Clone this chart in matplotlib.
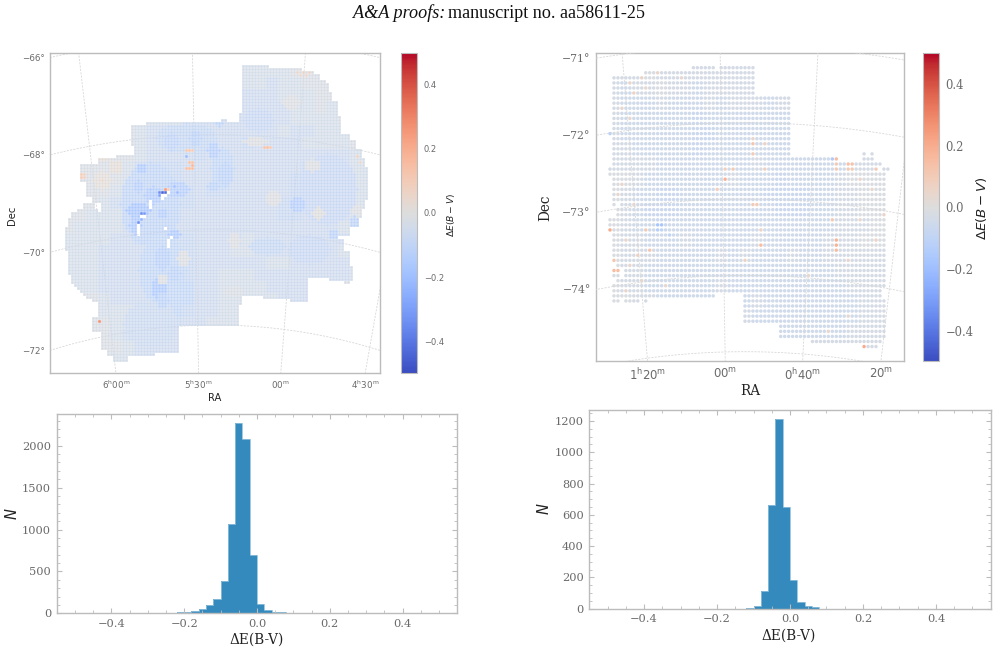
import numpy as np
import matplotlib
matplotlib.use("Agg")
import matplotlib.pyplot as plt
from matplotlib.colors import Normalize
from matplotlib.ticker import MultipleLocator

# ---------- histogram data (bin lower edge, counts; bins are 0.02 wide) ----------
LMC_BIN_LEFT = [-0.22, -0.20, -0.18, -0.16, -0.14, -0.12, -0.10, -0.08, -0.06, -0.04,
                -0.02, 0.00, 0.02, 0.04, 0.06]
LMC_COUNTS = [10, 12, 30, 50, 100, 175, 390, 1065, 2270, 2080, 700, 110, 35, 15, 12]
SMC_BIN_LEFT = [-0.12, -0.10, -0.08, -0.06, -0.04, -0.02, 0.00, 0.02, 0.04, 0.06]
SMC_COUNTS = [5, 15, 115, 660, 1215, 650, 185, 43, 15, 8]
BIN_WIDTH = 0.02

# ---------- LMC survey footprint: first/last column of each row, from row 4 down ----------
LMC_FIRST_ROW = 4
LMC_LEFT = [64] * 16 + [63] * 3 + [32] + [27] * 7 + [28] * 3 + [22] + [16] * 2 + [10] * 6 \
    + [12] * 5 + [14] * 2 + [17] * 3 + [7] * 2 + [6] * 3 + [5] * 8 + [6] * 8 + [7] * 3 \
    + [8, 9, 10, 11, 12, 14] + [16] * 5 + [14] * 5 + [17] * 6 + [19] * 2 + [21] * 2
LMC_RIGHT = [72, 83, 87, 89, 89, 91, 92, 92, 92, 93, 93, 93] + [95] * 5 + [96] * 6 \
    + [99] * 2 + [101] * 3 + [103] * 3 + [104] * 3 + [105] * 11 + [104] * 3 + [103] * 3 \
    + [102] * 3 + [99] * 3 + [95] + [97] * 4 + [99] * 5 + [100] * 4 + [85] * 6 + [63] * 3 \
    + [62] * 7 + [42] * 9 + [34] + [25] * 2
# detached runs: row, first column, last column
LMC_EXTRA_RUNS = [(22, 57, 58), (50, 11, 14), (51, 11, 14), (52, 9, 15),
                  (75, 93, 100), (76, 98, 99), (81, 71, 85), (82, 80, 85)]
# masked cells: row, column
LMC_HOLES = [(47, 37), (47, 38), (48, 37), (46, 39), (49, 33), (50, 33), (51, 33), (54, 31), (54, 30),
             (57, 29), (58, 29), (59, 29), (60, 29), (58, 38), (62, 39), (63, 39), (64, 39), (61, 40)]
# strongly deviating cells: row, column, value
LMC_SPOTS = [(46, 37, -0.45), (46, 38, -0.42), (46, 36, -0.35), (47, 36, -0.3), (45, 38, 0.25),
             (45, 39, 0.1), (46, 42, -0.22), (53, 30, -0.35), (53, 31, -0.32), (56, 29, -0.35),
             (55, 30, -0.25), (44, 41, -0.2), (45, 33, -0.16), (32, 45, 0.12), (32, 46, 0.12),
             (32, 47, 0.1), (36, 46, 0.14), (36, 47, 0.14), (37, 47, 0.18), (38, 45, 0.15),
             (38, 46, 0.15), (38, 47, 0.16), (34, 45, -0.22), (31, 71, 0.14), (31, 72, 0.15),
             (31, 73, 0.12), (6, 82, 0.06), (6, 84, 0.07), (6, 86, 0.07), (7, 83, 0.05), (7, 85, 0.06),
             (89, 16, 0.28), (40, 10, 0.1), (41, 10, 0.1), (40, 11, 0.08), (41, 11, 0.08),
             (42, 17, 0.05), (34, 102, 0.08), (36, 103, 0.05)]
# mean colour excess per block of 4x4 cells, coded with LMC_LEVELS
LMC_LEVELS = {"0": 0.02, "1": -0.02, "2": -0.04, "3": -0.06, "4": -0.075, "5": -0.09, "6": -0.11}
LMC_BLOCKS = [
    "1111111" + "111111111" + "111111111111",
    "1111111" + "111111111" + "222211101111",
    "1111111" + "111111111" + "223221111111",
    "1111111" + "111111111" + "333222111111",
    "1111111" + "111111111" + "333322121111",
    "1111111" + "222233333" + "333322221111",
    "1111111" + "233444333" + "333233222211",
    "1111111" + "233343433" + "433332222111",
    "1111011" + "233334343" + "333333333222",
    "1111102" + "344433333" + "333334433221",
    "1111012" + "454433333" + "333344443222",
    "1111123" + "455543443" + "333344433222",
    "1111233" + "555443333" + "333444333222",
    "1112223" + "554433333" + "333443333222",
    "1122223" + "454333333" + "333333332222",
    "1222233" + "444443333" + "233333333221",
    "1222333" + "344443332" + "233333332221",
    "1222333" + "334443333" + "332233333211",
    "1222333" + "333443322" + "233333333211",
    "1122333" + "333453322" + "223333321111",
    "1111233" + "333553322" + "222333211111",
    "1111222" + "333543322" + "222111111111",
    "1111122" + "333433222" + "221111111111",
    "1111123" + "333333222" + "221111111111",
    "1111112" + "333322222" + "111111111111",
    "1111122" + "332222111" + "111111111111",
    "1111122" + "222111111" + "111111111111",
]
# elongated structures drawn over the block means, broad ones first:
# centre row, centre column, half height, half width, value
LMC_BLOBS = [
    (50, 33, 14, 10, -0.095), (72, 37, 12, 8, -0.09), (28, 45, 5, 10, -0.085), (45, 92, 12, 10, -0.08),
    (38, 57, 7, 4, -0.09), (65, 86, 5, 7, -0.08), (90, 33, 8, 9, -0.07), (22, 69, 4, 5, -0.08),
    (64, 72, 3, 6, -0.085), (32, 54, 2.5, 2, -0.13), (40, 58, 4, 2.5, -0.11), (28, 48, 2.5, 2, -0.11),
    (29, 40, 3, 2.5, -0.105), (50, 82, 2.5, 2.5, -0.13), (44, 54, 1.5, 2.5, -0.11), (38, 30, 1.5, 1.5, -0.15),
    (44, 29, 2, 1.5, -0.13), (47, 34, 3, 3, -0.14), (45, 42, 2.5, 4, -0.13), (52, 29, 2.5, 4, -0.17),
    (57, 28, 3, 2, -0.15), (53, 37, 1.5, 1.5, -0.14), (60, 41, 1.5, 2, -0.15), (68, 37, 4, 2.5, -0.12),
    (73, 41, 2.5, 2, -0.11), (78, 36, 4, 2.5, -0.15), (82, 37, 2.5, 2, -0.11), (56, 101, 2, 1.5, -0.11),
    (23, 56, 1, 1.5, -0.11), (60, 94, 1.5, 1.5, -0.11),
    (75, 37, 1.5, 1.5, -0.01), (68, 44, 2.5, 2, -0.01), (53, 89, 2, 2, 0.0), (42, 17, 3, 3, 0.015),
    (48, 74, 2.5, 2.5, -0.01), (52, 102, 2, 2, -0.01), (29, 68, 1.5, 4, -0.01), (62, 61, 2.5, 2, -0.015),
    (79, 61, 2, 3, -0.02), (37, 87, 2, 2.5, -0.015), (16, 80, 2.5, 3, -0.015),
]

# ---------- SMC survey footprint: runs of (first column, last column) per row ----------
SMC_RUNS = (
    [[(21, 26), (28, 36)], [(9, 36)]] + [[(1, 36)]] * 4 + [[(1, 45)]] * 7 + [[(0, 45)]] + [[(1, 45)]] * 3
    + [[(1, 45), (64, 64), (66, 66)]] + [[(1, 57), (64, 66)]] + [[(1, 68)]] + [[(0, 67), (69, 70)]]
    + [[(0, 69)]] + [[(1, 69)]] * 5 + [[(1, 1), (3, 69)]] + [[(2, 69)]] * 2 + [[(0, 69)]] * 3
    + [[(1, 69)]] * 6 + [[(2, 69)]] + [[(1, 2), (4, 69)]] * 2 + [[(2, 69)]] + [[(1, 69)]] + [[(1, 68)]]
    + [[(1, 26), (34, 68)]] + [[(1, 2), (4, 7), (9, 9), (34, 69)]] + [[(34, 69)]] * 4
    + [[(43, 69)]] * 3 + [[(51, 68)]] + [[(64, 67)]]
)
SMC_SPOTS = [(32, 0, 0.2), (31, 12, -0.17), (31, 13, -0.17), (32, 12, -0.13), (32, 13, -0.1), (33, 15, -0.1),
             (32, 9, 0.1), (36, 10, 0.12), (37, 7, 0.07), (38, 1, 0.12), (40, 1, 0.15), (40, 2, 0.15),
             (18, 56, -0.15), (18, 57, 0.15), (19, 57, 0.1), (20, 57, 0.1), (19, 60, 0.13), (19, 61, 0.13),
             (20, 60, 0.1), (20, 61, 0.1), (20, 67, 0.1), (15, 36, 0.12), (14, 36, 0.05), (15, 39, 0.07),
             (20, 39, 0.08), (27, 36, 0.1), (27, 37, 0.1), (30, 56, 0.1), (34, 57, 0.18), (35, 57, 0.18),
             (36, 57, 0.15), (35, 38, 0.15), (32, 38, 0.06), (55, 64, 0.2), (38, 34, 0.06), (34, 67, 0.06),
             (22, 29, 0.18), (24, 27, 0.08), (20, 31, 0.1), (20, 29, 0.08), (17, 36, 0.1), (13, 0, -0.12),
             (3, 5, 0.05), (2, 8, 0.06), (1, 12, 0.05), (2, 18, 0.04), (5, 6, 0.06), (4, 9, 0.04), (8, 3, 0.05),
             (10, 5, 0.04), (23, 3, 0.05), (25, 2, 0.04), (27, 6, 0.04), (34, 4, 0.05), (39, 5, 0.05),
             (42, 8, 0.05), (44, 4, 0.05), (43, 14, 0.04), (30, 63, 0.04), (38, 60, 0.05), (29, 69, 0.05),
             (22, 63, 0.05), (24, 66, 0.04), (49, 60, 0.04), (52, 55, 0.04), (41, 50, 0.04)]
# mean colour excess per block of 3x3 cells, coded with SMC_LEVELS
SMC_LEVELS = {"1": -0.015, "2": -0.03, "3": -0.05, "4": -0.065}
SMC_BLOCKS = [
    "222122222222222222222222",
    "232212232222222222222222",
    "233323332322232222222222",
    "233333343333333322222222",
    "233333344333333333222222",
    "223333343333333333222222",
    "222233333333233333332222",
    "112333333323334333321111",
    "123344333333344443322111",
    "123444333333334443322111",
    "123343333333333333322211",
    "122333233333233333222111",
    "122233333232333233222222",
    "122333333333333333322222",
    "122333333233333333332222",
    "112233333333233333333222",
    "222222222222333333333222",
    "222222222222333333332222",
    "222222222222222222222222",
]

# ---------- graticule and labels ----------
LMC_RA_HOURS = [6.0, 5.5, 5.0, 4.5]
LMC_RA_LABELS = [r"$6^{\mathrm{h}}00^{\mathrm{m}}$", r"$5^{\mathrm{h}}30^{\mathrm{m}}$",
                 r"$00^{\mathrm{m}}$", r"$4^{\mathrm{h}}30^{\mathrm{m}}$"]
LMC_DECS = [-66, -68, -70, -72]
SMC_RA_HOURS = [4 / 3, 1.0, 2 / 3, 1 / 3]
SMC_RA_LABELS = [r"$1^{\mathrm{h}}20^{\mathrm{m}}$", r"$00^{\mathrm{m}}$",
                 r"$0^{\mathrm{h}}40^{\mathrm{m}}$", r"$20^{\mathrm{m}}$"]
SMC_DECS = [-71, -72, -73, -74, -75]

W, H = 997, 653
SANS = "DejaVu Sans"
SERIF = "DejaVu Serif"
TICK_GREY = "#6a6a6a"
SPINE_GREY = "#bcbcbc"
BAR_BLUE = "#348ABD"
CMAP = "coolwarm"
NORM = Normalize(-0.5, 0.5)

plt.rcParams["mathtext.fontset"] = "dejavusans"
fig = plt.figure(figsize=(W / 100, H / 100), dpi=100)


def axes_px(x0, y0, x1, y1):
    return fig.add_axes([x0 / W, 1 - y1 / H, (x1 - x0) / W, (y1 - y0) / H])


def text_px(x, y, s, **kw):
    kw.setdefault("ha", "center")
    kw.setdefault("va", "center")
    fig.text(x / W, 1 - y / H, s, **kw)


class CellProjection:
    """Gnomonic projection onto survey cell coordinates (column, row)."""

    def __init__(self, ra0, dec0, col0, row0, dcol, drow):
        self.ra0, self.dec0 = np.radians(ra0), np.radians(dec0)
        self.col0, self.row0, self.dcol, self.drow = col0, row0, dcol, drow

    def __call__(self, ra, dec):
        a, d = np.radians(ra), np.radians(dec)
        den = np.sin(self.dec0) * np.sin(d) + np.cos(self.dec0) * np.cos(d) * np.cos(a - self.ra0)
        xi = np.degrees(np.cos(d) * np.sin(a - self.ra0) / den)
        eta = np.degrees((np.cos(self.dec0) * np.sin(d)
                          - np.sin(self.dec0) * np.cos(d) * np.cos(a - self.ra0)) / den)
        return self.col0 - xi / self.dcol, self.row0 - eta / self.drow


def draw_graticule(ax, proj, ra_hours, ra_labels, decs, ra_span, dec_span, grid_z, font, size):
    xlo, xhi = ax.get_xlim()
    ybot, ytop = ax.get_ylim()
    xt, xl = [], []
    for hour, label in zip(ra_hours, ra_labels):
        d = np.linspace(*dec_span, 200)
        c, r = proj(np.full_like(d, hour * 15), d)
        ax.plot(c, r, ls=(0, (2.5, 1.5)), lw=0.6, color="#d8d8d8", zorder=grid_z)
        xt.append(np.interp(ybot, r[::-1] if r[0] > r[-1] else r, c[::-1] if r[0] > r[-1] else c))
        xl.append(label)
    yt, yl = [], []
    for dec in decs:
        a = np.linspace(*ra_span, 400)
        c, r = proj(a, np.full_like(a, float(dec)))
        ax.plot(c, r, ls=(0, (2.5, 1.5)), lw=0.6, color="#d8d8d8", zorder=grid_z)
        order = np.argsort(c)
        y = np.interp(xlo, c[order], r[order])
        if ytop <= y <= ybot:
            yt.append(y)
            yl.append(f"\u2212{abs(dec)}\u00b0")
    ax.set_xlim(xlo, xhi)
    ax.set_ylim(ybot, ytop)
    ax.set_xticks(xt, xl)
    ax.set_yticks(yt, yl)
    ax.tick_params(length=0, pad=4, colors=TICK_GREY, labelsize=size)
    for lab in ax.get_xticklabels() + ax.get_yticklabels():
        lab.set_family(font)
    for sp in ax.spines.values():
        sp.set_color(SPINE_GREY)
        sp.set_linewidth(1.0)


def add_colorbar(box, font, size, label, label_xy, label_size):
    cax = axes_px(*box)
    cb = fig.colorbar(plt.cm.ScalarMappable(norm=NORM, cmap=CMAP), cax=cax, ticks=[-0.4, -0.2, 0, 0.2, 0.4])
    cb.outline.set_edgecolor(SPINE_GREY)
    cb.outline.set_linewidth(0.8)
    cax.tick_params(length=0, pad=5, labelsize=size, colors=TICK_GREY)
    for lab in cax.get_yticklabels():
        lab.set_family(font)
    text_px(*label_xy, label, rotation=90, fontsize=label_size, color="#222222", family=SANS)


# ---------- LMC map ----------
ax = axes_px(50.3, 52.7, 380.3, 373.3)
holes = set(LMC_HOLES)
rows, cols = [], []
runs = [(LMC_FIRST_ROW + i, l, r) for i, (l, r) in enumerate(zip(LMC_LEFT, LMC_RIGHT))] + LMC_EXTRA_RUNS
for row, first, last in runs:
    for col in range(first, last + 1):
        if (row, col) not in holes:
            rows.append(row)
            cols.append(col)
rows, cols = np.array(rows), np.array(cols)
lmc_vals = np.array([LMC_LEVELS[LMC_BLOCKS[r // 4][c // 4]] for r, c in zip(rows, cols)])
for rc, cc, rr, cr, v in LMC_BLOBS:
    lmc_vals[((rows - rc) / rr) ** 2 + ((cols - cc) / cr) ** 2 <= 1] = v
lookup = {(r, c): i for i, (r, c) in enumerate(zip(rows, cols))}
for r, c, v in LMC_SPOTS:
    if (r, c) in lookup:
        lmc_vals[lookup[(r, c)]] = v
cells = ax.scatter(cols, rows, c=lmc_vals, cmap=CMAP, norm=NORM, marker="s", s=3.5, linewidths=0, zorder=2)
cells.set_snap(False)
ax.set_xlim((50.3 - 50) / 3 - 0.5, (380.3 - 50) / 3 - 0.5)
ax.set_ylim((373.3 - 53) / 3 - 0.5, (52.7 - 53) / 3 - 0.5)
lmc_proj = CellProjection(81.0, -69.7, 54.5, 53.67, 3 / 37.3, 3 / 47.6)
draw_graticule(ax, lmc_proj, LMC_RA_HOURS, LMC_RA_LABELS, LMC_DECS, (50, 110), (-76, -62), 1, SANS, 6.3)
text_px(215, 398, "RA", fontsize=7.2, color="#222222", family=SANS)
text_px(12, 215, "Dec", rotation=90, fontsize=7.2, color="#222222", family=SANS)
add_colorbar((401, 52.7, 417, 373.3), SANS, 6, r"$\Delta E(B-V)$", (450.7, 215), 6.6)

# ---------- SMC map ----------
ax = axes_px(596.3, 53.3, 904.3, 361.3)
rows, cols = [], []
for row, row_runs in enumerate(SMC_RUNS):
    for first, last in row_runs:
        for col in range(first, last + 1):
            rows.append(row)
            cols.append(col)
smc_vals = np.array([SMC_LEVELS[SMC_BLOCKS[r // 3][c // 3]] for r, c in zip(rows, cols)])
lookup = {(r, c): i for i, (r, c) in enumerate(zip(rows, cols))}
for r, c, v in SMC_SPOTS:
    if (r, c) in lookup:
        smc_vals[lookup[(r, c)]] = v
ax.scatter(cols, rows, c=smc_vals, cmap=CMAP, norm=NORM, marker="o", s=6.2, linewidths=0, zorder=2)
ax.set_xlim((596.3 - 610) / 3.97, (904.3 - 610) / 3.97)
ax.set_ylim((361.3 - 67.7) / 5.07, (53.3 - 67.7) / 5.07)
smc_proj = CellProjection(13.75, -73.0, 33.9, 25.9, 3.97 / 60.2, 5.07 / 76.3)
draw_graticule(ax, smc_proj, SMC_RA_HOURS, SMC_RA_LABELS, SMC_DECS, (-20, 50), (-78, -68), 3, SERIF, 7.8)
for lab in ax.get_xticklabels():
    lab.set_fontsize(8.4)
text_px(750, 390.7, "RA", fontsize=9.8, color="#222222", family=SERIF)
text_px(545.7, 208, "Dec", rotation=90, fontsize=9.8, color="#222222", family=SERIF)
add_colorbar((923.3, 53.3, 938.7, 361.3), SERIF, 8.3, r"$\Delta E(B-V)$", (981.7, 208), 9.6)


# ---------- histograms ----------
def histogram(box, lefts, counts, ytop, y_major, y_minor, xlabel_xy, n_xy):
    ax = axes_px(*box)
    ax.bar(lefts, counts, width=BIN_WIDTH, align="edge", color=BAR_BLUE, linewidth=0)
    ax.stairs(counts, list(lefts) + [lefts[-1] + BIN_WIDTH], color="#8fbfdc", linewidth=0.6)
    ax.set_xlim(-0.55, 0.55)
    ax.set_ylim(0, ytop)
    ax.xaxis.set_major_locator(MultipleLocator(0.2))
    ax.xaxis.set_minor_locator(MultipleLocator(0.05))
    ax.yaxis.set_major_locator(MultipleLocator(y_major))
    ax.yaxis.set_minor_locator(MultipleLocator(y_minor))
    ax.tick_params(which="major", direction="in", top=True, right=True, length=3.5, width=0.8,
                   color=SPINE_GREY, labelcolor=TICK_GREY, labelsize=8.2, pad=4)
    ax.tick_params(which="minor", direction="in", top=True, right=True, length=2, width=0.6, color=SPINE_GREY)
    for lab in ax.get_xticklabels() + ax.get_yticklabels():
        lab.set_family(SERIF)
    for sp in ax.spines.values():
        sp.set_color(SPINE_GREY)
        sp.set_linewidth(1.0)
    text_px(*xlabel_xy, "\u0394E(B-V)", fontsize=9.8, color="#222222", family=SERIF)
    text_px(*n_xy, r"$N$", rotation=90, fontsize=10.5, color="#222222", family=SANS)


histogram((56.7, 414.3, 457.3, 613.3), LMC_BIN_LEFT, LMC_COUNTS, 2375, 500, 100, (256.7, 640), (12, 514))
histogram((589.3, 409.7, 990.7, 608.7), SMC_BIN_LEFT, SMC_COUNTS, 1272, 200, 50, (789, 635.7), (544, 509))

# ---------- running head ----------
text_px(445, 13, "A&A proofs:", ha="right", family="Liberation Serif", style="italic", fontsize=13.1, color="#111111")
text_px(448, 13, "manuscript no. aa58611-25", ha="left", family="Liberation Serif", fontsize=13.1, color="#111111")

fig.savefig("out.png", dpi=100)
